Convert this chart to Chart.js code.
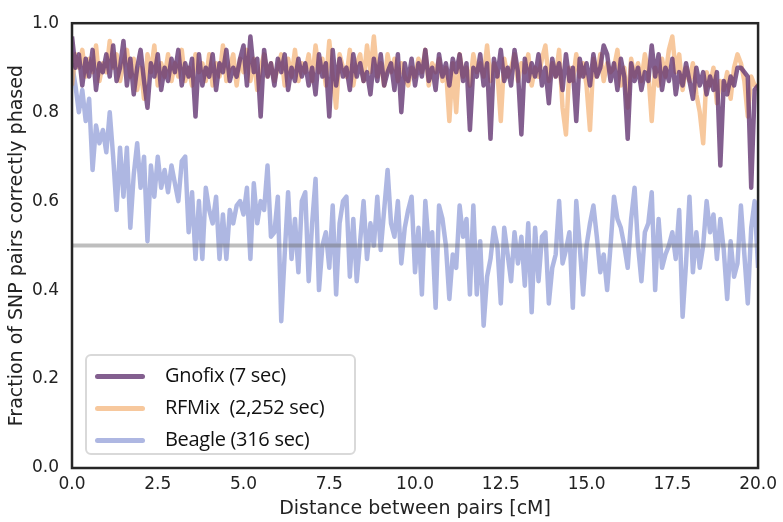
<!DOCTYPE html>
<html>
<head>
<meta charset="utf-8">
<script src="https://cdn.jsdelivr.net/npm/chart.js@4.4.1/dist/chart.umd.min.js"></script>
<style>
  html, body { margin: 0; padding: 0; background: #fff; }
  #wrap { position: relative; width: 783px; height: 522px; }
  #legend {
    position: absolute; left: 85px; top: 354px; width: 271px; height: 101px;
    border: 2px solid #d9d9d9; border-radius: 6px; background: rgba(255,255,255,0.85);
    box-sizing: border-box; font-family: "Open Sans", sans-serif; font-size: 20px; color: #111;
  }
  .item { position: absolute; left: 8px; height: 30px; line-height: 30px; white-space: pre; letter-spacing: -0.3px; }
  .swatch { display: inline-block; width: 50px; height: 5px; border-radius: 3px; vertical-align: middle; margin-right: 20px; }
</style>
</head>
<body>
<div id="wrap">
  <canvas id="chart"></canvas>
  <div id="legend"></div>
</div>
<script>
// distance grid (cM), 0.1 cM steps from 0 to 20
const step = 0.1;
const nPoints = 201;

const gnofix = [
  0.97, 0.90, 0.93, 0.86, 0.92, 0.88, 0.94, 0.85, 0.91, 0.89,
  0.93, 0.88, 0.95, 0.87, 0.90, 0.96, 0.86, 0.92, 0.84, 0.90,
  0.94, 0.87, 0.81, 0.91, 0.88, 0.93, 0.85, 0.90, 0.87, 0.92,
  0.89, 0.94, 0.86, 0.91, 0.88, 0.92, 0.79, 0.93, 0.86, 0.90,
  0.88, 0.93, 0.85, 0.91, 0.89, 0.94, 0.87, 0.90, 0.88, 0.92,
  0.95, 0.86, 0.97, 0.89, 0.92, 0.79, 0.94, 0.88, 0.91, 0.86,
  0.92, 0.89, 0.93, 0.85, 0.90, 0.87, 0.92, 0.88, 0.91, 0.86,
  0.90, 0.84, 0.93, 0.88, 0.91, 0.79, 0.94, 0.86, 0.92, 0.88,
  0.90, 0.85, 0.93, 0.88, 0.91, 0.87, 0.89, 0.84, 0.92, 0.87,
  0.93, 0.86, 0.89, 0.91, 0.85, 0.93, 0.80, 0.91, 0.87, 0.92,
  0.86, 0.91, 0.88, 0.94, 0.87, 0.90, 0.85, 0.93, 0.88, 0.91,
  0.86, 0.92, 0.89, 0.93, 0.87, 0.91, 0.76, 0.90, 0.88, 0.93,
  0.86, 0.91, 0.74, 0.92, 0.88, 0.94, 0.87, 0.90, 0.86, 0.94,
  0.89, 0.75, 0.92, 0.87, 0.91, 0.88, 0.93, 0.86, 0.90, 0.82,
  0.92, 0.88, 0.91, 0.85, 0.93, 0.87, 0.90, 0.78, 0.92, 0.88,
  0.91, 0.86, 0.93, 0.88, 0.90, 0.95, 0.93, 0.87, 0.91, 0.85,
  0.92, 0.88, 0.74, 0.91, 0.87, 0.90, 0.85, 0.89, 0.87, 0.95,
  0.88, 0.93, 0.85, 0.90, 0.87, 0.92, 0.84, 0.89, 0.86, 0.91,
  0.87, 0.83, 0.90, 0.86, 0.89, 0.84, 0.88, 0.85, 0.89, 0.68,
  0.87, 0.84, 0.88, 0.86, 0.90, 0.90, 0.89, 0.88, 0.63, 0.85,
  0.86
];

const rfmix = [
  0.86, 0.93, 0.90, 0.94, 0.88, 0.92, 0.89, 0.95, 0.87, 0.91,
  0.89, 0.96, 0.90, 0.93, 0.87, 0.91, 0.94, 0.88, 0.92, 0.85,
  0.90, 0.83, 0.93, 0.89, 0.95, 0.86, 0.91, 0.88, 0.93, 0.87,
  0.91, 0.88, 0.94, 0.87, 0.90, 0.86, 0.93, 0.89, 0.91, 0.87,
  0.93, 0.86, 0.91, 0.88, 0.95, 0.87, 0.90, 0.93, 0.86, 0.92,
  0.89, 0.94, 0.87, 0.92, 0.85, 0.90, 0.93, 0.88, 0.91, 0.87,
  0.90, 0.93, 0.86, 0.92, 0.88, 0.94, 0.87, 0.91, 0.89, 0.93,
  0.87, 0.95, 0.89, 0.92, 0.86, 0.96, 0.88, 0.81, 0.93, 0.90,
  0.88, 0.94, 0.86, 0.91, 0.93, 0.87, 0.95, 0.89, 0.97, 0.88,
  0.91, 0.86, 0.93, 0.89, 0.92, 0.87, 0.91, 0.88, 0.86, 0.90,
  0.88, 0.92, 0.89, 0.94, 0.86, 0.91, 0.89, 0.92, 0.87, 0.90,
  0.78, 0.91, 0.80, 0.93, 0.88, 0.90, 0.86, 0.93, 0.89, 0.91,
  0.88, 0.95, 0.87, 0.91, 0.89, 0.78, 0.92, 0.88, 0.90, 0.93,
  0.87, 0.91, 0.89, 0.93, 0.86, 0.90, 0.88, 0.92, 0.95, 0.87,
  0.91, 0.88, 0.94, 0.81, 0.75, 0.90, 0.87, 0.93, 0.88, 0.91,
  0.86, 0.76, 0.92, 0.88, 0.93, 0.87, 0.91, 0.89, 0.90, 0.94,
  0.86, 0.90, 0.81, 0.92, 0.88, 0.91, 0.87, 0.93, 0.89, 0.78,
  0.90, 0.86, 0.92, 0.88, 0.94, 0.97, 0.89, 0.93, 0.85, 0.90,
  0.87, 0.91, 0.84, 0.80, 0.73, 0.89, 0.86, 0.90, 0.82, 0.87,
  0.85, 0.89, 0.83, 0.90, 0.93, 0.91, 0.87, 0.79, 0.88, 0.86,
  0.86
];

const beagle = [
  0.91, 0.86, 0.80, 0.85, 0.78, 0.83, 0.67, 0.77, 0.73, 0.76,
  0.71, 0.80, 0.70, 0.58, 0.72, 0.61, 0.72, 0.54, 0.66, 0.73,
  0.63, 0.70, 0.51, 0.68, 0.61, 0.70, 0.63, 0.67, 0.62, 0.68,
  0.64, 0.60, 0.69, 0.70, 0.53, 0.62, 0.47, 0.60, 0.47, 0.63,
  0.58, 0.55, 0.61, 0.47, 0.57, 0.47, 0.58, 0.55, 0.59, 0.60,
  0.57, 0.63, 0.47, 0.64, 0.55, 0.60, 0.58, 0.68, 0.52, 0.53,
  0.61, 0.33, 0.48, 0.62, 0.47, 0.56, 0.44, 0.60, 0.62, 0.42,
  0.55, 0.65, 0.40, 0.50, 0.53, 0.45, 0.59, 0.39, 0.55, 0.60,
  0.61, 0.43, 0.56, 0.42, 0.51, 0.60, 0.47, 0.55, 0.50, 0.61,
  0.49, 0.58, 0.67, 0.55, 0.52, 0.60, 0.46, 0.54, 0.58, 0.61,
  0.44, 0.54, 0.39, 0.60, 0.50, 0.53, 0.36, 0.59, 0.56, 0.50,
  0.38, 0.48, 0.45, 0.59, 0.52, 0.56, 0.39, 0.59, 0.39, 0.51,
  0.32, 0.43, 0.47, 0.54, 0.50, 0.37, 0.54, 0.48, 0.42, 0.53,
  0.46, 0.52, 0.41, 0.55, 0.35, 0.54, 0.42, 0.52, 0.53, 0.37,
  0.45, 0.48, 0.60, 0.46, 0.49, 0.53, 0.36, 0.60, 0.50, 0.39,
  0.50, 0.55, 0.59, 0.52, 0.44, 0.48, 0.40, 0.50, 0.61, 0.56,
  0.54, 0.50, 0.45, 0.56, 0.63, 0.50, 0.42, 0.53, 0.55, 0.62,
  0.40, 0.56, 0.45, 0.48, 0.50, 0.53, 0.47, 0.58, 0.34, 0.46,
  0.61, 0.44, 0.53, 0.45, 0.50, 0.60, 0.53, 0.57, 0.47, 0.56,
  0.49, 0.38, 0.51, 0.43, 0.46, 0.59, 0.48, 0.37, 0.54, 0.60,
  0.45
];

const chanceLevel = 0.5;
const xTicks = [0, 2.5, 5, 7.5, 10, 12.5, 15, 17.5, 20];
const yTicks = [0, 0.2, 0.4, 0.6, 0.8, 1.0];

const seriesNames = ["Gnofix (7 sec)", "RFMix  (2,252 sec)", "Beagle (316 sec)"];
const seriesColors = ["rgba(100, 55, 115, 0.8)", "rgba(242, 170, 105, 0.65)", "rgba(130, 145, 210, 0.65)"];

const distance = Array.from({ length: nPoints }, (_, i) => +(i * step).toFixed(1));
const toPoints = (vals) => vals.map((v, i) => ({ x: distance[i], y: v }));

// frame around the plot area
const framePlugin = {
  id: "frame",
  afterDraw(chart) {
    const { ctx, chartArea: a } = chart;
    ctx.save();
    ctx.strokeStyle = "#262626";
    ctx.lineWidth = 2.5;
    ctx.strokeRect(a.left, a.top, a.right - a.left, a.bottom - a.top);
    ctx.restore();
  }
};

const lineDs = (label, data, color, order, width) => ({
  label, data: toPoints(data), borderColor: color, backgroundColor: color,
  borderWidth: width, pointRadius: 0, tension: 0, order, borderJoinStyle: "round"
});

new Chart(document.getElementById("chart"), {
  type: "line",
  data: {
    datasets: [
      {
        label: "chance", data: [{ x: 0, y: chanceLevel }, { x: 20, y: chanceLevel }],
        borderColor: "rgba(110, 110, 110, 0.45)", borderWidth: 4, pointRadius: 0, order: -1
      },
      lineDs(seriesNames[0], gnofix, seriesColors[0], 0, 4.5),
      lineDs(seriesNames[1], rfmix, seriesColors[1], 1, 4.5),
      lineDs(seriesNames[2], beagle, seriesColors[2], 2, 4.5)
    ]
  },
  options: {
    responsive: true,
    maintainAspectRatio: false,
    animation: false,
    layout: { padding: { top: 18, right: 23, left: 0, bottom: 0 } },
    plugins: { legend: { display: false }, tooltip: { enabled: false } },
    scales: {
      x: {
        type: "linear", min: 0, max: 20,
        grid: { display: false, drawTicks: false },
        border: { display: false },
        afterBuildTicks: (s) => { s.ticks = xTicks.map((v) => ({ value: v })); },
        afterFit: (s) => { s.height = 54; },
        ticks: { padding: 6, color: "#222", font: { family: "DejaVu Sans", size: 17 }, callback: (v) => v.toFixed(1), maxRotation: 0 },
        title: { display: true, text: "Distance between pairs [cM]", color: "#222", font: { family: "DejaVu Sans", size: 19 }, padding: { top: 0, bottom: 2 } }
      },
      y: {
        min: 0, max: 1,
        grid: { display: false, drawTicks: false },
        border: { display: false },
        afterBuildTicks: (s) => { s.ticks = yTicks.map((v) => ({ value: v })); },
        afterFit: (s) => { s.width = 72; },
        ticks: { padding: 13, color: "#222", font: { family: "DejaVu Sans", size: 17 }, callback: (v) => v.toFixed(1) },
        title: { display: true, text: "Fraction of SNP pairs correctly phased", color: "#222", font: { family: "DejaVu Sans", size: 19 }, padding: { top: 6, bottom: 0 } }
      }
    }
  },
  plugins: [framePlugin]
});

// legend inside the plot
const legend = document.getElementById("legend");
seriesNames.forEach((name, i) => {
  const row = document.createElement("div");
  row.className = "item";
  row.style.top = (4 + i * 32) + "px";
  row.innerHTML = '<span class="swatch" style="background:' + seriesColors[i] + '"></span>';
  row.appendChild(document.createTextNode(name));
  legend.appendChild(row);
});
</script>
</body>
</html>
